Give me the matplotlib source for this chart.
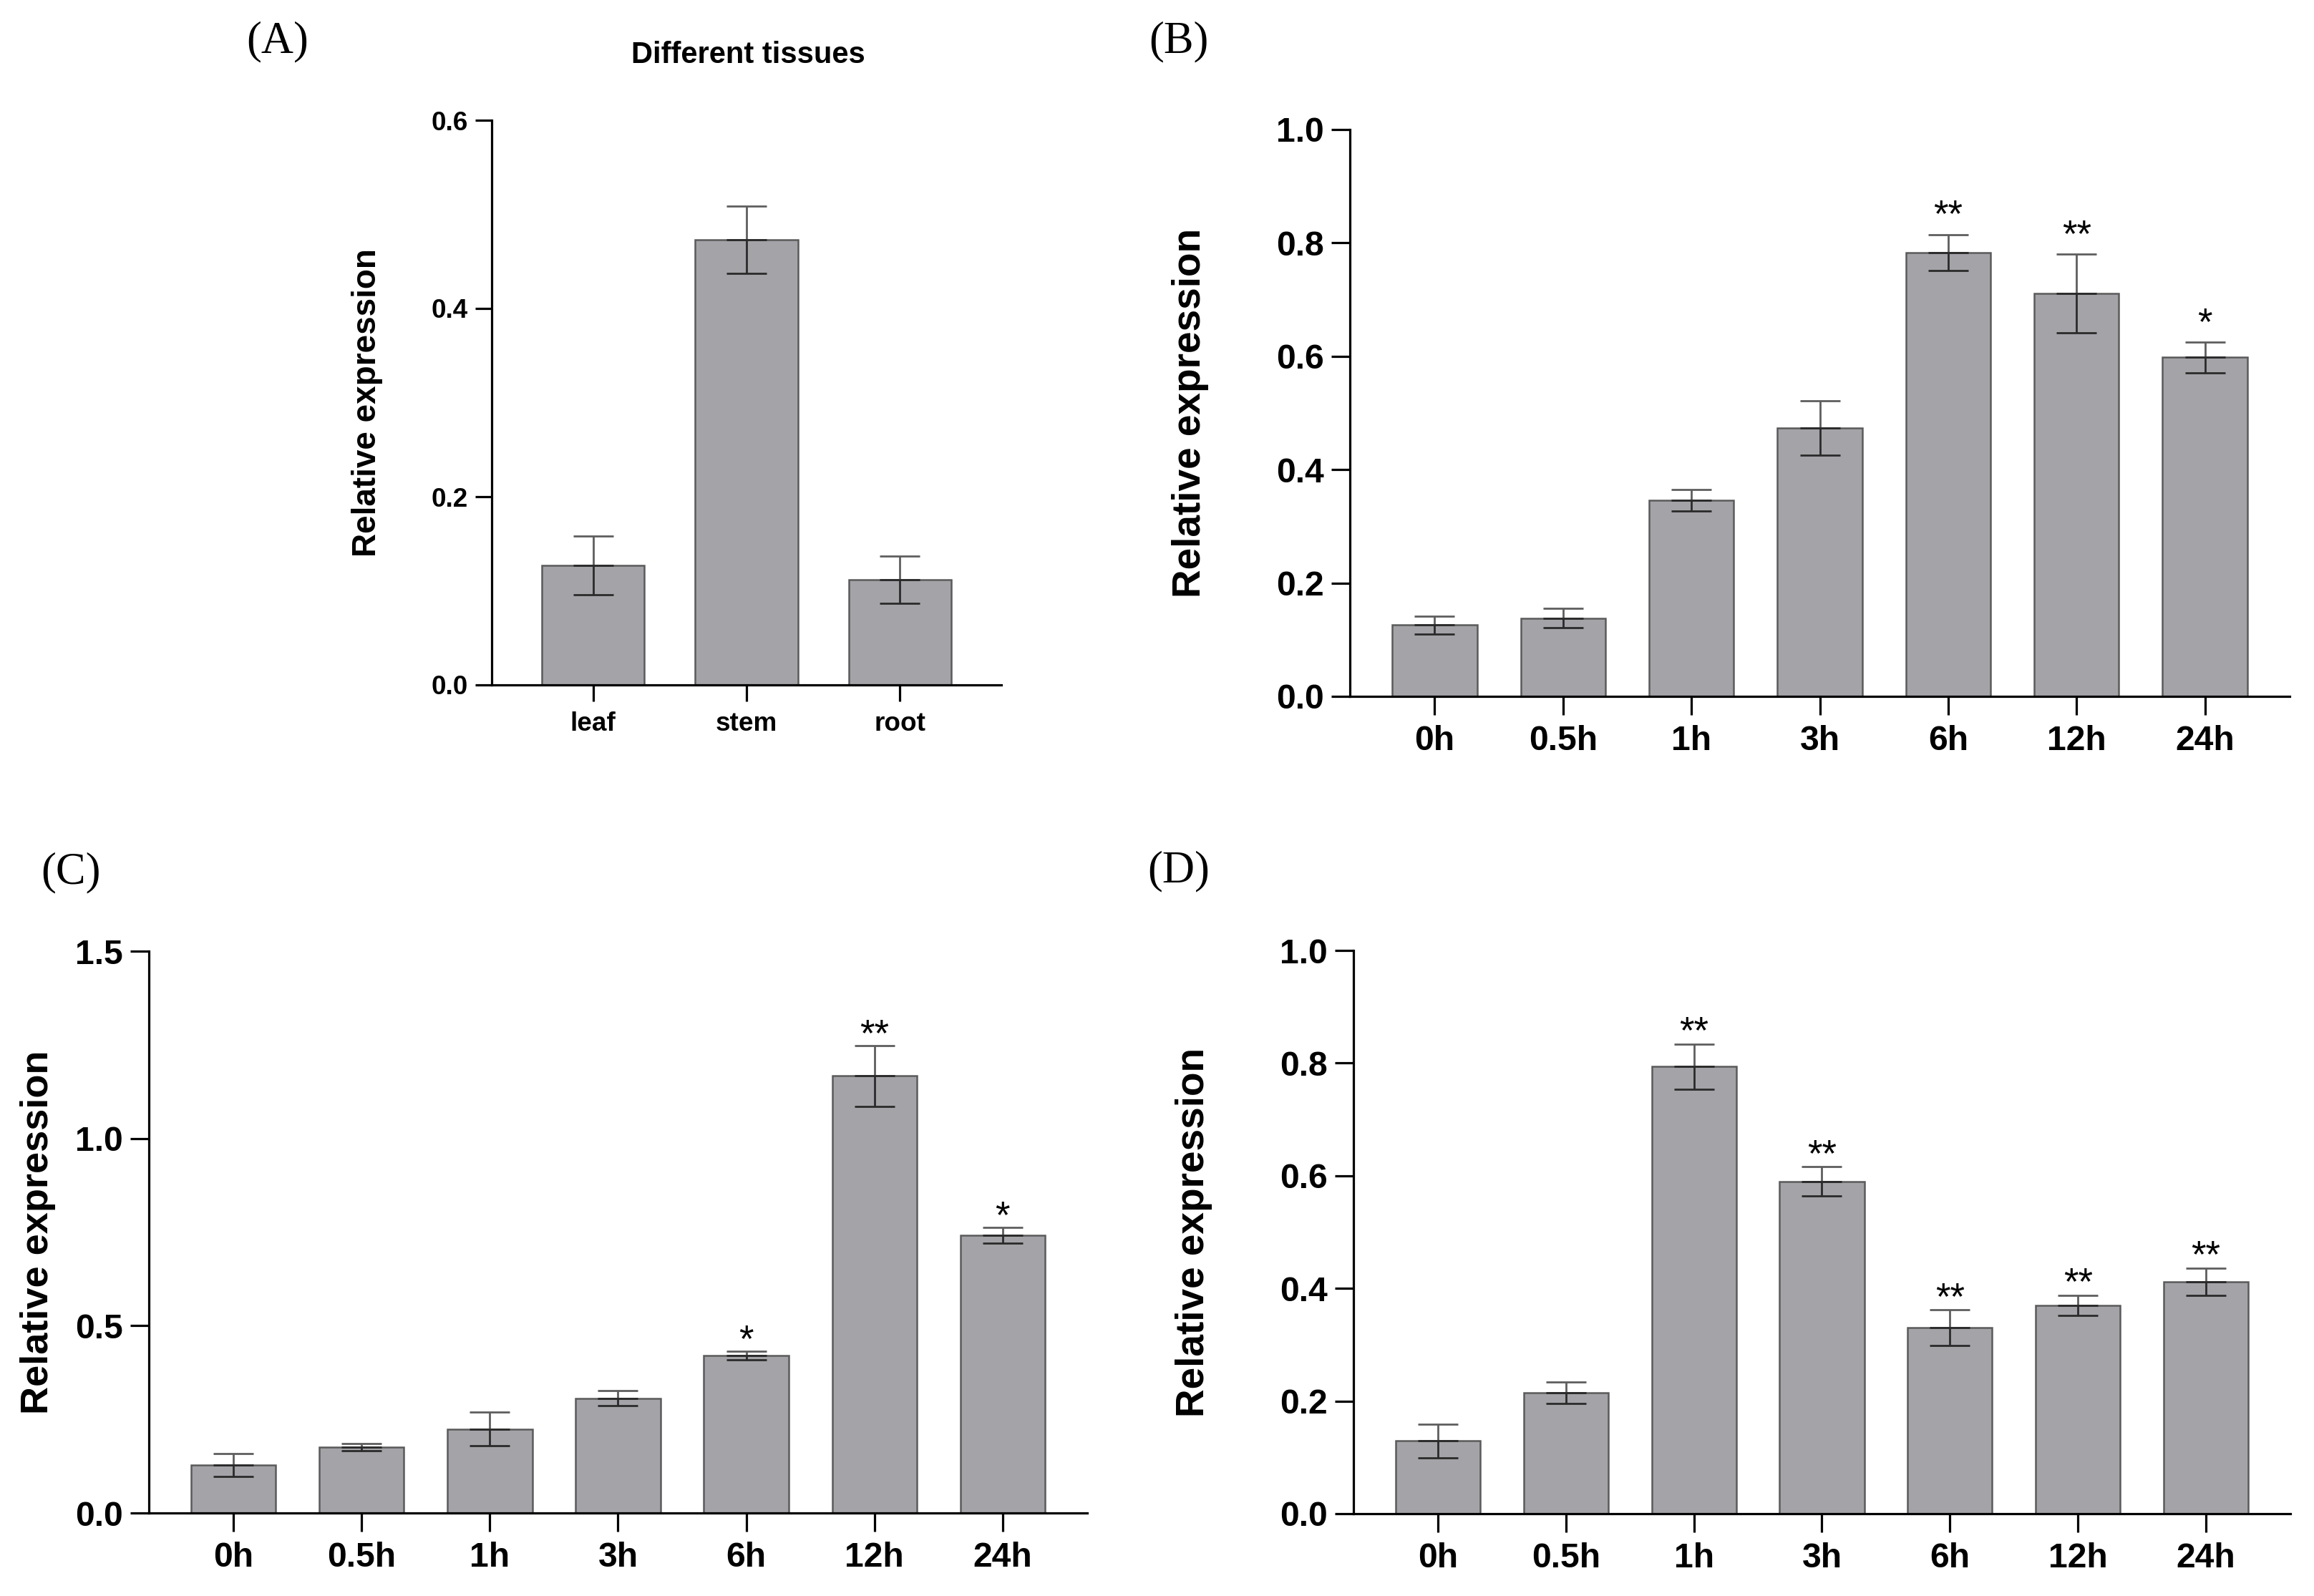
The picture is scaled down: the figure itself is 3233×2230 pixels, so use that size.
import matplotlib
matplotlib.use('Agg')
import matplotlib.pyplot as plt
from matplotlib.ticker import FormatStrFormatter

# ---------------- data ----------------
tissues = ['leaf', 'stem', 'root']
tissue_mean = [0.127, 0.473, 0.112]
tissue_err = [0.031, 0.036, 0.025]

time_labels = ['0h', '0.5h', '1h', '3h', '6h', '12h', '24h']

b_mean = [0.126, 0.138, 0.346, 0.474, 0.783, 0.711, 0.598]
b_err = [0.016, 0.017, 0.019, 0.048, 0.032, 0.069, 0.027]
b_sig = ['', '', '', '', '**', '**', '*']

c_mean = [0.128, 0.176, 0.224, 0.306, 0.420, 1.167, 0.741]
c_err = [0.030, 0.010, 0.045, 0.020, 0.011, 0.081, 0.021]
c_sig = ['', '', '', '', '*', '**', '*']

d_mean = [0.129, 0.215, 0.794, 0.590, 0.330, 0.370, 0.412]
d_err = [0.030, 0.019, 0.040, 0.026, 0.032, 0.018, 0.024]
d_sig = ['', '', '**', '**', '**', '**', '**']

a_yticks = [0.0, 0.2, 0.4, 0.6]
b_yticks = [0.0, 0.2, 0.4, 0.6, 0.8, 1.0]
c_yticks = [0.0, 0.5, 1.0, 1.5]
d_yticks = [0.0, 0.2, 0.4, 0.6, 0.8, 1.0]

# ---------------- style ----------------
SANS = ['Liberation Sans', 'DejaVu Sans']
SERIF = ['Liberation Serif', 'DejaVu Serif']
BAR_FC = '#a4a3a8'
BAR_EC = '#5a5a5a'

W, H = 3233, 2230
DPI = 200
fig = plt.figure(figsize=(W / DPI, H / DPI), dpi=DPI)


def px_axes(l, t, r, b):
    return fig.add_axes([l / W, 1 - b / H, (r - l) / W, (b - t) / H])


def panel(ax, labels, means, errs, sigs, yticks, fmt, tick_fs, ylab_fs,
          ylab_x, tick_len, width, star_off=0, star_fs=19):
    x = list(range(len(labels)))
    ax.bar(x, means, width=width, color=BAR_FC, edgecolor=BAR_EC,
           linewidth=0.9, zorder=2)
    zeros = [0] * len(errs)
    ax.errorbar(x, means, yerr=[zeros, errs], fmt='none', ecolor='#5e5e5e',
                elinewidth=1.0, capsize=10, capthick=1.0, zorder=3)
    ax.errorbar(x, means, yerr=[errs, zeros], fmt='none', ecolor='#2a2a2a',
                elinewidth=1.0, capsize=10, capthick=1.0, zorder=3)
    for xi, m, e, s in zip(x, means, errs, sigs):
        if s:
            ax.annotate(s, (xi, m + e), xytext=(0, star_off),
                        textcoords='offset points',
                        ha='center', va='baseline', fontsize=star_fs,
                        family=SANS, color='black')
    ax.set_xlim(-0.66, len(labels) - 1 + 0.66)
    ax.set_ylim(yticks[0], yticks[-1])
    ax.set_yticks(yticks)
    ax.yaxis.set_major_formatter(FormatStrFormatter(fmt))
    ax.set_xticks(x)
    ax.set_xticklabels(labels)
    for sp in ['top', 'right']:
        ax.spines[sp].set_visible(False)
    for sp in ['left', 'bottom']:
        ax.spines[sp].set_linewidth(1.15)
        ax.spines[sp].set_color('black')
    ax.tick_params(axis='both', direction='out', length=tick_len, width=1.15,
                   color='black')
    ax.tick_params(axis='y', pad=3.5)
    ax.tick_params(axis='x', pad=5)
    for lab in ax.get_xticklabels() + ax.get_yticklabels():
        lab.set_fontfamily(SANS)
        lab.set_fontweight('bold')
        lab.set_fontsize(tick_fs)
    ax.set_ylabel('Relative expression', fontsize=ylab_fs, fontweight='bold',
                  family=SANS)
    ax.yaxis.label.set_verticalalignment('center')
    ax.yaxis.set_label_coords(ylab_x, 0.5)


axA = px_axes(687, 168, 1399, 957)
panel(axA, tissues, tissue_mean, tissue_err, ['', '', ''], a_yticks, '%.1f',
      13.3, 16.5, -0.244, 8.3, 0.667)
axA.text(0.503, 1.115, 'Different tissues', transform=axA.transAxes,
         ha='center', va='center', fontsize=15, fontweight='bold', family=SANS)

axB = px_axes(1886, 181, 3199, 973)
panel(axB, time_labels, b_mean, b_err, b_sig, b_yticks, '%.1f',
      17.3, 19.8, -0.170, 9.4, 0.66, star_off=4)

axC = px_axes(208, 1329, 1519, 2114)
panel(axC, time_labels, c_mean, c_err, c_sig, c_yticks, '%.1f',
      17.3, 19.5, -0.118, 9.4, 0.66, star_off=0)

axD = px_axes(1891, 1328, 3200, 2115)
panel(axD, time_labels, d_mean, d_err, d_sig, d_yticks, '%.1f',
      17.3, 19.8, -0.170, 9.4, 0.66, star_off=0.5)

for lab, (px, py) in zip(['(A)', '(B)', '(C)', '(D)'],
                         [(388, 58), (1647, 58), (99, 1219), (1647, 1217)]):
    fig.text(px / W, 1 - py / H, lab, ha='center', va='center',
             fontsize=22.5, family=SERIF)

fig.savefig('out.png', dpi=DPI, facecolor='white')
